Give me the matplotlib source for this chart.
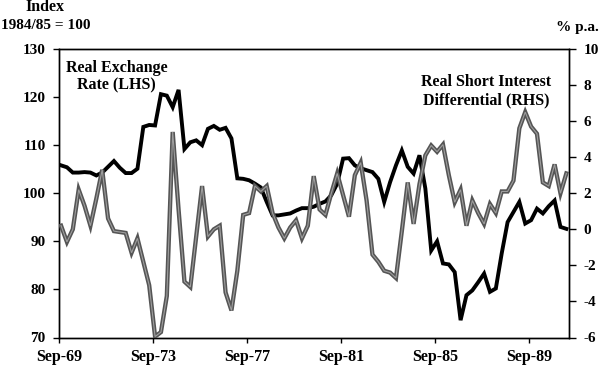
import numpy as np
import matplotlib
matplotlib.use("Agg")
import matplotlib.pyplot as plt

# ---- data (quarterly, starting Sep-69) ----
rer = [105.8, 105.4, 104.3, 104.3, 104.4, 104.3, 103.7, 104.3, 105.5, 106.7,
       105.3, 104.2, 104.2, 105.1, 113.8, 114.2, 114.1, 120.6, 120.3, 117.9,
       121.5, 109.2, 110.6, 111.0, 110.0, 113.4, 114.0, 113.2, 113.6, 111.4,
       103.1, 103.0, 102.7, 102.0, 101.2, 98.2, 95.4, 95.4, 95.6, 95.8,
       96.4, 96.9, 96.9, 97.2, 97.8, 98.3, 99.6, 102.0, 107.2, 107.3,
       105.8, 105.2, 104.8, 104.4, 103.0, 98.2, 102.3, 105.8, 108.9, 105.5,
       104.1, 107.9, 101.0, 88.1, 90.0, 85.4, 85.2, 83.6, 73.6, 78.8,
       79.8, 81.5, 83.3, 79.5, 80.2, 87.5, 94.0, 96.1, 98.2, 93.7,
       94.4, 96.8, 95.8, 97.3, 98.5, 93.0, 92.6]

diff = [0.2, -0.7, 0.0, 2.2, 1.3, 0.2, 1.7, 3.3, 0.6, -0.1,
        -0.15, -0.2, -1.3, -0.5, -1.8, -3.1, -5.95, -5.7, -3.7, 5.4,
        1.1, -2.9, -3.2, -0.4, 2.4, -0.4, 0.0, 0.2, -3.5, -4.5,
        -2.3, 0.8, 0.9, 2.4, 2.1, 2.4, 0.9, 0.1, -0.5, 0.1,
        0.5, -0.5, 0.2, 2.95, 1.1, 0.8, 2.0, 3.1, 1.9, 0.7,
        3.0, 3.7, 1.6, -1.4, -1.8, -2.3, -2.4, -2.7, -0.1, 2.6,
        0.3, 2.5, 4.1, 4.65, 4.3, 4.7, 3.0, 1.5, 2.2, 0.2,
        1.6, 0.9, 0.3, 1.4, 0.9, 2.1, 2.1, 2.7, 5.6, 6.5,
        5.7, 5.3, 2.6, 2.4, 3.6, 2.0, 3.1]

tick_quarters = [0, 16, 32, 48, 64, 80]
tick_labels = ["Sep-69", "Sep-73", "Sep-77", "Sep-81", "Sep-85", "Sep-89"]
left_ticks = [70, 80, 90, 100, 110, 120, 130]
right_ticks = [-6, -4, -2, 0, 2, 4, 6, 8, 10]

FONT = "Liberation Serif"
plt.rcParams["font.family"] = [FONT, "DejaVu Serif"]
plt.rcParams["font.weight"] = "bold"
plt.rcParams["axes.unicode_minus"] = False

W, H = 600, 370
fig = plt.figure(figsize=(W / 100, H / 100), dpi=100)
L, R, T, B = 59.3, 568.7, 49.0, 337.5
ax = fig.add_axes([L / W, 1 - B / H, (R - L) / W, (B - T) / H])
ax2 = ax.twinx()

x = np.arange(len(rer))
xg = np.arange(len(diff))
ax.plot(x, rer, color="black", lw=2.8, solid_joinstyle="miter", zorder=3)
ax2.plot(xg, diff, color="#555555", lw=3.1, solid_joinstyle="miter", zorder=3)
ax2.plot(xg, diff, color="#9e9e9e", lw=0.8, solid_joinstyle="miter", zorder=4)

ax.set_xlim(-0.3, 86.4)
ax.set_ylim(70, 130)
ax2.set_ylim(-6, 10)

ax.set_xticks(np.array(tick_quarters) - 0.3)
ax.set_xticklabels(tick_labels)
ax.set_yticks(left_ticks)
ax2.set_yticks(right_ticks)

for a in (ax, ax2):
    for s in a.spines.values():
        s.set_linewidth(1.0)
        s.set_color("black")

ax.tick_params(axis="x", direction="out", length=3.5, width=1.0, pad=5,
               labelsize=11.5)
ax.tick_params(axis="y", direction="out", length=4.2, width=1.0, pad=5.5,
               labelsize=11)
ax2.tick_params(axis="y", direction="out", length=5, width=1.0, pad=5.5,
                labelsize=11)
for lab in ax.get_xticklabels() + ax.get_yticklabels() + ax2.get_yticklabels():
    lab.set_fontweight("bold")
    lab.set_family([FONT, "DejaVu Serif"])

def ftext(px, py, s, **kw):
    fig.text(px / W, 1 - py / H, s, fontweight="bold",
             family=[FONT, "DejaVu Serif"], **kw)

ftext(45, 7, "Index", ha="center", va="center", fontsize=11.5)
ftext(46, 25.5, "1984/85 = 100", ha="center", va="center", fontsize=11)
ftext(599, 27, "% p.a.", ha="right", va="center", fontsize=11)
ftext(116.5, 76.5, "Real Exchange\nRate (LHS)", ha="center", va="center",
      fontsize=11.5, linespacing=1.15)
ftext(486, 91, "Real Short Interest\nDifferential (RHS)", ha="center",
      va="center", fontsize=11.5, linespacing=1.15)

fig.savefig("out.png", dpi=100)
